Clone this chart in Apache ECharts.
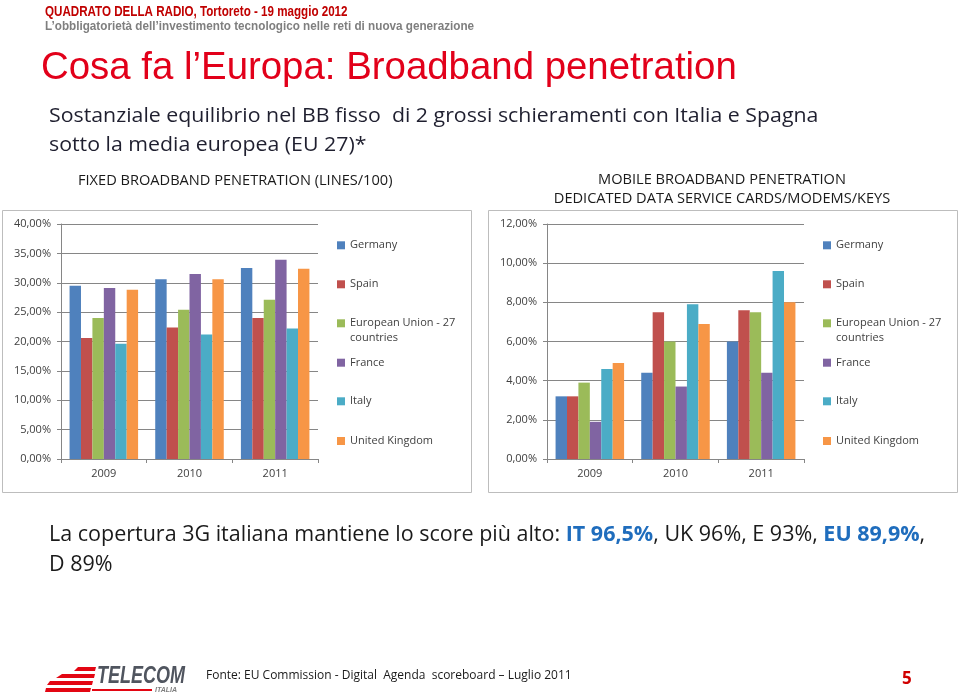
<!DOCTYPE html>
<html>
<head>
<meta charset="utf-8">
<script src="https://cdn.jsdelivr.net/npm/echarts@6/dist/echarts.min.js"></script>
<style>html,body{margin:0;padding:0;background:#fff;}#c{width:960px;height:695px;}</style>
</head>
<body>
<div id="c"></div>
<script>
// ---- data ----
var years = ['2009', '2010', '2011'];
var seriesNames = ['Germany', 'Spain', 'European Union - 27 countries', 'France', 'Italy', 'United Kingdom'];
var colors = ['#4F81BD', '#C0504D', '#9BBB59', '#8064A2', '#4BACC6', '#F79646'];

// Fixed broadband penetration (%), per country, 2009-2011
var fixedGermany = [29.5, 30.6, 32.5];
var fixedSpain = [20.6, 22.4, 24.0];
var fixedEU27 = [24.0, 25.4, 27.1];
var fixedFrance = [29.1, 31.5, 33.9];
var fixedItaly = [19.6, 21.2, 22.2];
var fixedUK = [28.8, 30.6, 32.4];

// Mobile broadband penetration (%), per country, 2009-2011
var mobileGermany = [3.2, 4.4, 6.0];
var mobileSpain = [3.2, 7.5, 7.6];
var mobileEU27 = [3.9, 6.0, 7.5];
var mobileFrance = [1.9, 3.7, 4.4];
var mobileItaly = [4.6, 7.9, 9.6];
var mobileUK = [4.9, 6.9, 8.0];

var fixedData = [fixedGermany, fixedSpain, fixedEU27, fixedFrance, fixedItaly, fixedUK];
var mobileData = [mobileGermany, mobileSpain, mobileEU27, mobileFrance, mobileItaly, mobileUK];

// ---- chart ----
var FONT = "'Open Sans', 'Liberation Sans', sans-serif";
var chart = echarts.init(document.getElementById('c'), null, {renderer: 'canvas'});

function pctFmt(v) { return v.toFixed(2).replace('.', ',') + '%'; }

function yAxis(gi, max, interval) {
  return {
    type: 'value', gridIndex: gi, min: 0, max: max, interval: interval,
    axisLine: {show: true, lineStyle: {color: '#868686', width: 1}},
    axisTick: {show: true, length: 4, lineStyle: {color: '#868686'}},
    splitLine: {show: true, lineStyle: {color: '#868686', width: 1}},
    axisLabel: {formatter: pctFmt, color: '#404040', fontFamily: FONT, fontSize: 11, margin: 10}
  };
}
function xAxis(gi) {
  return {
    type: 'category', gridIndex: gi, data: years,
    axisLine: {show: true, lineStyle: {color: '#868686', width: 1}},
    axisTick: {show: true, length: 4, lineStyle: {color: '#868686'}},
    axisLabel: {color: '#404040', fontFamily: FONT, fontSize: 11, margin: 9}
  };
}

var series = [];
[fixedData, mobileData].forEach(function (set, gi) {
  set.forEach(function (vals, i) {
    series.push({
      type: 'bar', name: seriesNames[i], xAxisIndex: gi, yAxisIndex: gi,
      data: vals, barGap: '0%', barCategoryGap: '20%',
      itemStyle: {color: colors[i]}, emphasis: {disabled: true}, animation: false
    });
  });
});

var legendCenters = [245.3, 284.3, 323.3, 362.7, 401.3, 441];
var legends = [];
[337, 823].forEach(function (lx) {
  seriesNames.forEach(function (n, i) {
    var eu = (i === 2);
    legends.push({
      data: [{name: n, icon: 'rect'}], orient: 'vertical', left: lx,
      top: eu ? legendCenters[i] - 22.5 : legendCenters[i] - 7.5,
      padding: 0, itemWidth: 8, itemHeight: 8, selectedMode: false,
      formatter: eu ? ' \nEuropean Union - 27\ncountries' : '{name}',
      textStyle: {color: '#404040', fontFamily: FONT, fontSize: 11, lineHeight: 15}
    });
  });
});

function txt(x, y, text, font, fill, extra) {
  var o = {type: 'text', x: x, y: y, silent: true,
    style: {text: text, font: font, fill: fill, textAlign: 'left', textVerticalAlign: 'middle'}};
  if (extra) { for (var k in extra) { if (k === 'style') { for (var s in extra.style) o.style[s] = extra.style[s]; } else o[k] = extra[k]; } }
  return o;
}

var graphics = [
  {type: 'rect', shape: {x: 2.5, y: 210.5, width: 469, height: 282}, style: {fill: 'none', stroke: '#bdbdbd', lineWidth: 1}, z: -1, silent: true},
  {type: 'rect', shape: {x: 488.5, y: 210.5, width: 469, height: 282}, style: {fill: 'none', stroke: '#bdbdbd', lineWidth: 1}, z: -1, silent: true},
  txt(45, 12, 'QUADRATO DELLA RADIO, Tortoreto - 19 maggio 2012', "bold 15px 'Liberation Sans', sans-serif", '#c00000', {scaleX: 0.774}),
  txt(45, 26, "L\u2019obbligatoriet\u00e0 dell\u2019investimento tecnologico nelle reti di nuova generazione", "bold 13px 'Liberation Sans', sans-serif", '#7f7f7f', {scaleX: 0.9}),
  txt(41, 68, "Cosa fa l\u2019Europa: Broadband penetration", "38.4px 'Liberation Sans', Arial, sans-serif", '#e2001a'),
  txt(49, 116, 'Sostanziale equilibrio nel BB fisso  di 2 grossi schieramenti con Italia e Spagna', "20.5px " + FONT, '#1f1f2f', {scaleX: 1.04}),
  txt(49, 145, 'sotto la media europea (EU 27)*', "20.5px " + FONT, '#1f1f2f', {scaleX: 1.04}),
  txt(78, 181, 'FIXED BROADBAND PENETRATION (LINES/100)', "14.6px " + FONT, '#1a1a1a'),
  txt(722, 180, 'MOBILE BROADBAND PENETRATION', "14.6px " + FONT, '#1a1a1a', {style: {textAlign: 'center'}}),
  txt(722, 199, 'DEDICATED DATA SERVICE CARDS/MODEMS/KEYS', "14.6px " + FONT, '#1a1a1a', {style: {textAlign: 'center'}}),
  {type: 'text', x: 49, y: 535, silent: true, style: {
    text: '{n|La copertura 3G italiana mantiene lo score pi\u00f9 alto: }{b|IT 96,5%}{n|, UK 96%, E 93%, }{b|EU 89,9%}{n|,}',
    textVerticalAlign: 'middle',
    rich: {n: {fontFamily: FONT, fontSize: 21.5, fill: '#1a1a1a', color: '#1a1a1a'},
           b: {fontFamily: FONT, fontSize: 21.5, fontWeight: 'bold', fill: '#1f6dbd', color: '#1f6dbd'}}}},
  txt(49, 565, 'D 89%', "21.5px " + FONT, '#1a1a1a'),
  txt(206, 675, 'Fonte: EU Commission - Digital  Agenda  scoreboard \u2013 Luglio 2011', "13px " + FONT, '#1a1a1a', {scaleX: 0.923}),
  txt(902, 679, '5', "bold 17px " + FONT, '#d00000'),
  // logo
  {type: 'polygon', shape: {points: [[78, 667], [96, 667], [95, 671], [74, 671]]}, style: {fill: '#e30613'}, silent: true},
  {type: 'polygon', shape: {points: [[62, 674], [95, 674], [94, 678], [56, 678]]}, style: {fill: '#e30613'}, silent: true},
  {type: 'polygon', shape: {points: [[50, 681], [93, 681], [92, 685], [47, 685]]}, style: {fill: '#e30613'}, silent: true},
  {type: 'polygon', shape: {points: [[46, 688], [91, 688], [90, 692], [45, 692]]}, style: {fill: '#e30613'}, silent: true},
  {type: 'rect', shape: {x: 92, y: 689, width: 60, height: 2}, style: {fill: '#e30613'}, silent: true},
  txt(97, 676, 'TELECOM', "italic bold 24px 'Liberation Sans', sans-serif", '#50555f', {scaleX: 0.75}),
  txt(155, 690, 'ITALIA', "italic bold 7px 'Liberation Sans', sans-serif", '#7f7f7f')
];

chart.setOption({
  backgroundColor: '#ffffff',
  animation: false,
  grid: [
    {left: 61, top: 224, width: 257, height: 235, containLabel: false},
    {left: 547, top: 224, width: 257, height: 235, containLabel: false}
  ],
  xAxis: [xAxis(0), xAxis(1)],
  yAxis: [yAxis(0, 40, 5), yAxis(1, 12, 2)],
  legend: legends,
  series: series,
  graphic: graphics
});
</script>
</body>
</html>
